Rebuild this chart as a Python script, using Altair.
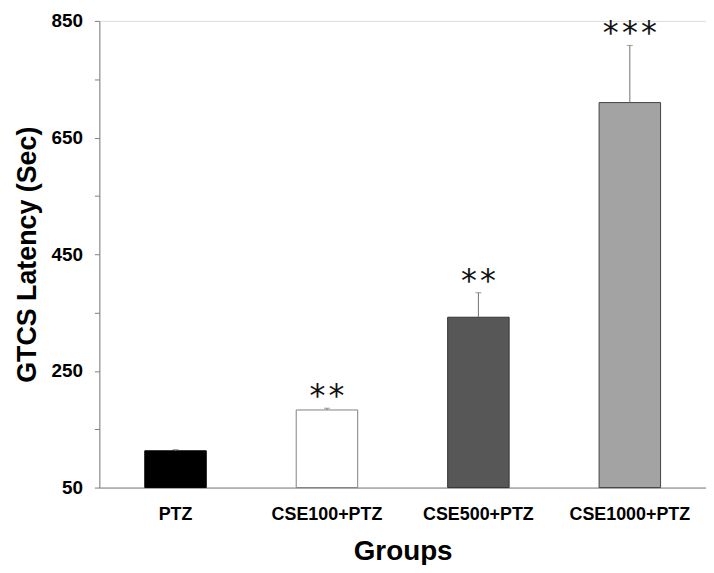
import altair as alt
import pandas as pd

groups = ["PTZ", "CSE100+PTZ", "CSE500+PTZ", "CSE1000+PTZ"]
means = [113, 183, 342, 710]
sems = [2, 3, 42, 98]
stars = ["", "*\u200a*", "*\u200a*", "*\u200a*\u200a*"]
fills = ["#000000", "#ffffff", "#575757", "#a3a3a3"]
strokes = ["#000000", "#808080", "#333333", "#444444"]
y_ticks = list(range(50, 851, 50))

df = pd.DataFrame({
    "group": groups,
    "mean": means,
    "sem": sems,
    "top": [m + s for m, s in zip(means, sems)],
    "stars": stars,
})

FONT = "Liberation Sans"

x = alt.X(
    "group:N",
    sort=groups,
    scale=alt.Scale(paddingInner=0.594, paddingOuter=0.3),
    axis=alt.Axis(
        title="Groups",
        labelAngle=0,
        ticks=False,
        tickSize=0,
        domainColor="#808080",
        labelFont=FONT,
        labelFontSize=18,
        labelFontWeight="bold",
        labelColor="#000000",
        labelPadding=18,
        titleFont=FONT,
        titleFontSize=28,
        titleFontWeight="bold",
        titleColor="#000000",
        titlePadding=14,
    ),
)

yscale = alt.Scale(domain=[50, 850], nice=False, zero=False)

bars = alt.Chart(df).mark_bar(strokeWidth=1).encode(
    x=x,
    y=alt.Y(
        "mean:Q",
        scale=yscale,
        axis=alt.Axis(
            title="GTCS Latency (Sec)",
            values=y_ticks,
            labelExpr="(datum.value - 50) % 200 == 0 ? datum.label : ''",
            grid=False,
            domainColor="#808080",
            tickColor="#808080",
            tickSize=5,
            labelFont=FONT,
            labelFontSize=19,
            labelFontWeight="bold",
            labelColor="#000000",
            labelPadding=12,
            titleFont=FONT,
            titleFontSize=27,
            titleFontWeight="bold",
            titleColor="#000000",
            titlePadding=10,
        ),
    ),
    y2=alt.Y2(datum=50),
    fill=alt.Fill("group:N", scale=alt.Scale(domain=groups, range=fills), legend=None),
    stroke=alt.Stroke("group:N", scale=alt.Scale(domain=groups, range=strokes), legend=None),
)

err = alt.Chart(df).mark_rule(color="#707070", strokeWidth=1).encode(
    x=alt.X("group:N", sort=groups),
    y=alt.Y("mean:Q", scale=yscale),
    y2="top:Q",
)

cap = alt.Chart(df).mark_tick(color="#707070", thickness=1, size=6, orient="horizontal").encode(
    x=alt.X("group:N", sort=groups),
    y=alt.Y("top:Q", scale=yscale),
)

txt = alt.Chart(df).mark_text(
    font="DejaVu Sans", fontSize=32, baseline="alphabetic", dy=-2, color="#111111"
).encode(
    x=alt.X("group:N", sort=groups),
    y=alt.Y("top:Q", scale=yscale),
    text="stars:N",
)

chart = (
    alt.layer(bars, err, cap, txt)
    .properties(
        width=611,
        height=470,
        autosize=alt.AutoSizeParams(type="none"),
        padding={"left": 92, "top": 11, "right": 0, "bottom": 76},
    )
    .configure_view(stroke=None)
    .configure(background="#ffffff")
)

chart.save("out.html", embed_options={"renderer": "svg", "actions": False})
